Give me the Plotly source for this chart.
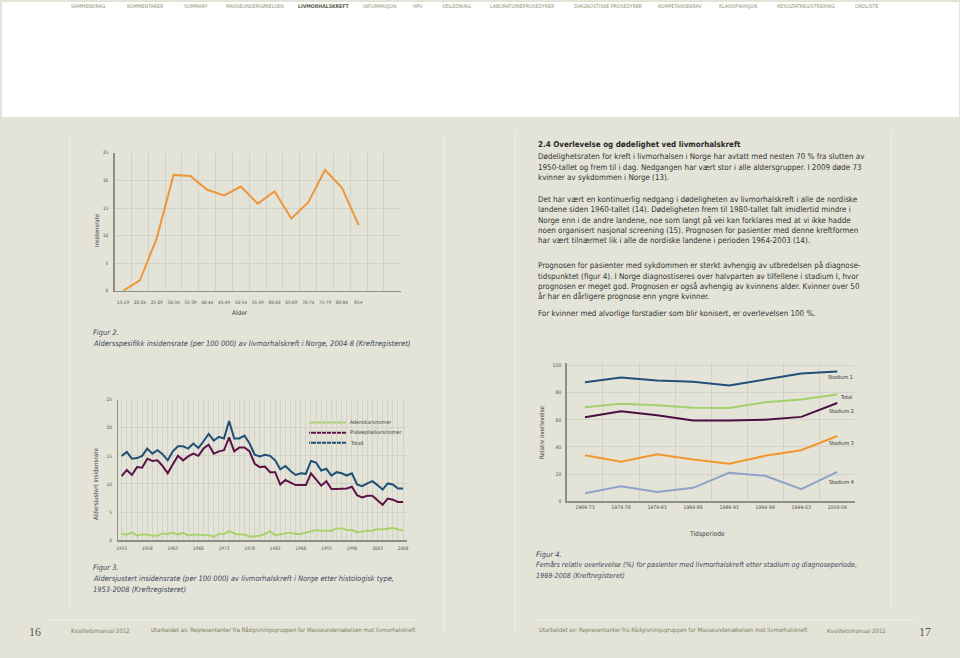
import plotly.graph_objects as go

# ---------------- data ----------------
age_groups = ["15-19", "20-24", "25-29", "30-34", "35-39", "40-44", "45-49", "50-54",
              "55-59", "60-64", "65-69", "70-74", "75-79", "80-84", "85+"]
incidence_rate = [0.0, 1.9, 9.5, 21.0, 20.8, 18.3, 17.3, 18.9, 15.8, 18.0, 13.1, 16.0, 21.9, 18.7, 11.9]

years = list(range(1953, 2009))
adenokarsinomer = [1.1, 1.0, 1.4, 0.8, 1.0, 1.0, 0.8, 0.8, 1.2, 1.1,
                   1.3, 1.0, 1.3, 0.8, 1.0, 1.0, 0.9, 0.9, 0.6, 1.1,
                   1.1, 1.6, 1.2, 1.0, 1.0, 0.6, 0.7, 0.8, 1.1, 1.6,
                   0.9, 1.1, 1.2, 1.3, 1.1, 1.1, 1.3, 1.5, 1.8, 1.7,
                   1.7, 1.7, 2.1, 2.1, 1.8, 1.8, 1.4, 1.6, 1.7, 1.7,
                   2.0, 1.9, 2.0, 2.2, 1.9, 1.7]
plateepitelkarsinomer = [11.4, 12.5, 11.6, 13.0, 12.9, 14.5, 14.1, 14.2, 13.2, 11.9,
                         13.5, 15.0, 14.2, 14.9, 15.4, 15.0, 16.3, 17.0, 15.4, 15.8,
                         16.0, 18.3, 15.8, 16.5, 16.5, 15.8, 13.6, 13.0, 13.1, 12.1,
                         12.1, 9.9, 10.7, 10.3, 9.8, 9.8, 9.8, 11.9, 10.9, 9.7,
                         10.5, 9.1, 9.1, 9.2, 9.2, 9.5, 8.0, 7.6, 7.9, 7.9,
                         7.1, 6.3, 7.4, 7.2, 6.8, 6.8]
totalt = [15.0, 15.7, 14.5, 14.6, 15.0, 16.3, 15.4, 16.0, 15.3, 14.2,
          15.8, 16.7, 16.7, 16.3, 17.2, 16.4, 17.6, 18.9, 17.7, 18.4,
          18.1, 21.2, 18.1, 18.1, 18.6, 17.2, 15.2, 14.9, 15.2, 15.0,
          14.2, 12.6, 13.2, 12.3, 11.6, 11.9, 11.8, 14.1, 13.8, 12.4,
          12.7, 11.5, 12.1, 11.9, 11.5, 11.9, 9.9, 9.6, 10.1, 10.5,
          9.8, 9.0, 10.1, 9.9, 9.2, 9.2]
year_ticks = [1953, 1958, 1963, 1968, 1973, 1978, 1983, 1988, 1993, 1998, 2003, 2008]

periods = ["1969-73", "1974-78", "1979-83", "1984-88", "1989-93", "1994-98", "1999-03", "2004-08"]
stadium1 = [87.6, 91.0, 88.8, 87.9, 85.2, 89.6, 93.9, 95.4]
total_surv = [69.2, 71.8, 70.6, 68.9, 68.7, 72.8, 74.8, 78.6]
stadium2 = [61.9, 66.3, 63.3, 59.5, 59.5, 60.0, 62.1, 72.3]
stadium3 = [34.0, 29.1, 34.7, 30.8, 27.7, 33.5, 37.6, 48.1]
stadium4 = [6.1, 11.2, 7.0, 10.0, 21.1, 18.9, 9.0, 21.8]

nav_labels = ["SAMMENDRAG", "KOMMENTARER", "SUMMARY", "MASSEUNDERSØKELSEN", "LIVMORHALSKREFT",
              "INFORMASJON", "HPV", "VEILEDNING", "LABORATORIEPROSEDYRER", "DIAGNOSTISKE PROSEDYRER",
              "KOMPETANSEKRAV", "KLASSIFIKASJON", "RESULTATREGISTRERING", "ORDLISTE"]

body_lines = [
    "Dødelighetsraten for kreft i livmorhalsen i Norge har avtatt med nesten 70 % fra slutten av",
    "1950-tallet og frem til i dag. Nedgangen har vært stor i alle aldersgrupper. I 2009 døde 73",
    "kvinner av sykdommen i Norge (13).",
    "Det har vært en kontinuerlig nedgang i dødeligheten av livmorhalskreft i alle de nordiske",
    "landene siden 1960-tallet (14). Dødeligheten frem til 1980-tallet falt imidlertid mindre i",
    "Norge enn i de andre landene, noe som langt på vei kan forklares med at vi ikke hadde",
    "noen organisert nasjonal screening (15). Prognosen for pasienter med denne kreftformen",
    "har vært tilnærmet lik i alle de nordiske landene i perioden 1964-2003 (14).",
    "Prognosen for pasienter med sykdommen er sterkt avhengig av utbredelsen på diagnose-",
    "tidspunktet (figur 4). I Norge diagnostiseres over halvparten av tilfellene i stadium I, hvor",
    "prognosen er meget god. Prognosen er også avhengig av kvinnens alder. Kvinner over 50",
    "år har en dårligere prognose enn yngre kvinner.",
    "For kvinner med alvorlige forstadier som blir konisert, er overlevelsen 100 %.",
]

# ---------------- styling helpers ----------------
W, H = 960, 658
NARROW = "Liberation Sans Narrow, DejaVu Sans Condensed, Arial Narrow, sans-serif"
SERIF = "Liberation Serif, DejaVu Serif, serif"
BG = "#e3e3d8"
GRID = "#d2d2c6"
AXIS = "#8e8e86"
TXT = "#333333"
CAP = "#3e4a5a"
FOOT = "#7d8160"
FS = 0.83  # width compensation for the condensed fallback font


def X(px):
    return px / W


def Y(py):
    return 1 - py / H


anns = []
shapes = []


def add_text(px, py, text, size, color=TXT, xanchor="left", family=NARROW, angle=0, scale=True,
             yanchor="middle"):
    anns.append(dict(x=X(px), y=Y(py), xref="paper", yref="paper", text=text, showarrow=False,
                     xanchor=xanchor, yanchor=yanchor, textangle=angle, borderpad=0,
                     font=dict(size=size * (FS if scale else 1), color=color, family=family)))


def hline(x0, x1, py, color, width=1):
    shapes.append(dict(type="line", xref="paper", yref="paper", x0=X(x0), x1=X(x1), y0=Y(py), y1=Y(py),
                       line=dict(color=color, width=width), layer="below"))


def vline(px, y0, y1, color, width=1):
    shapes.append(dict(type="line", xref="paper", yref="paper", x0=X(px), x1=X(px), y0=Y(y0), y1=Y(y1),
                       line=dict(color=color, width=width), layer="below"))


fig = go.Figure()

# ---------------- Figur 2 ----------------
age_idx = list(range(len(age_groups)))
fig.add_trace(go.Scatter(x=age_idx, y=incidence_rate, mode="lines", xaxis="x", yaxis="y",
                         line=dict(color="#ec973b", width=2), showlegend=False, hoverinfo="skip"))

# ---------------- Figur 3 ----------------
fig.add_trace(go.Scatter(x=years, y=adenokarsinomer, mode="lines", xaxis="x2", yaxis="y2",
                         line=dict(color="#a9d26c", width=2), showlegend=False, name="Adenokarsinomer"))
fig.add_trace(go.Scatter(x=years, y=plateepitelkarsinomer, mode="lines", xaxis="x2", yaxis="y2",
                         line=dict(color="#5c1447", width=2), showlegend=False, name="Plateepitelkarsinomer"))
fig.add_trace(go.Scatter(x=years, y=totalt, mode="lines", xaxis="x2", yaxis="y2",
                         line=dict(color="#1f4f74", width=2), showlegend=False, name="Totalt"))

# ---------------- Figur 4 ----------------
surv_series = [("Stadium 1", stadium1, "#1f4f7a"), ("Total", total_surv, "#a3d06e"),
               ("Stadium 2", stadium2, "#4b0f3f"), ("Stadium 3", stadium3, "#f2962f"),
               ("Stadium 4", stadium4, "#8fa3c9")]
for name, vals, col in surv_series:
    fig.add_trace(go.Scatter(x=periods, y=vals, mode="lines", xaxis="x3", yaxis="y3",
                             line=dict(color=col, width=2), showlegend=False, name=name))

tickfont = dict(size=5.6 * FS, color="#555555", family=NARROW)
tickfont4 = dict(size=6.2 * FS, color="#555555", family=NARROW)

fig.update_layout(
    width=W, height=H, autosize=False,
    margin=dict(l=0, r=0, t=0, b=0),
    paper_bgcolor=BG, plot_bgcolor="rgba(0,0,0,0)",
    showlegend=False,
    xaxis=dict(domain=[X(113), X(400)], anchor="y", range=[-0.5, 16.5],
               tickmode="array", tickvals=age_idx, ticktext=age_groups, tickangle=0,
               showgrid=False, zeroline=False, showline=True, linecolor=AXIS, linewidth=1.5,
               ticks="outside", ticklen=6, tickcolor="rgba(0,0,0,0)", tickfont=tickfont,
               minor=dict(tickmode="linear", tick0=0.5, dtick=1, showgrid=True, gridcolor=GRID, gridwidth=1),
               fixedrange=True),
    yaxis=dict(domain=[Y(291), Y(152)], anchor="x", range=[0, 25], dtick=5,
               showgrid=True, gridcolor=GRID, zeroline=False, showline=True, linecolor=AXIS, linewidth=1.5,
               ticks="outside", ticklen=4, tickcolor="rgba(0,0,0,0)", tickfont=tickfont, fixedrange=True),
    xaxis2=dict(domain=[X(116.7), X(406.7)], anchor="y2", range=[1952.35, 2008.85],
                tickmode="array", tickvals=year_ticks, tickangle=0,
                showgrid=True, gridcolor=GRID, zeroline=False, showline=True, linecolor=AXIS, linewidth=1.5,
                ticks="outside", ticklen=3, tickcolor="rgba(0,0,0,0)", tickfont=tickfont,
                minor=dict(tickmode="linear", tick0=1953, dtick=1, showgrid=True, gridcolor=GRID, gridwidth=1),
                fixedrange=True),
    yaxis2=dict(domain=[Y(542.3), Y(400.7)], anchor="x2", range=[0, 25], dtick=5,
                showgrid=True, gridcolor=GRID, zeroline=False, showline=True, linecolor=AXIS, linewidth=1.5,
                ticks="outside", ticklen=4, tickcolor="rgba(0,0,0,0)", tickfont=tickfont, fixedrange=True),
    xaxis3=dict(domain=[X(566.7), X(856)], anchor="y3", type="category", range=[-0.5, 7.5],
                tickson="boundaries", showgrid=True, gridcolor=GRID, zeroline=False, tickangle=0,
                showline=True, linecolor=AXIS, linewidth=1.5,
                ticks="", tickfont=tickfont4, fixedrange=True),
    yaxis3=dict(domain=[Y(503.3), Y(363.3)], anchor="x3", range=[0, 102], dtick=20,
                showgrid=True, gridcolor=GRID, zeroline=False, showline=True, linecolor=AXIS, linewidth=1.5,
                ticks="outside", ticklen=3, tickcolor="rgba(0,0,0,0)", tickfont=tickfont4, fixedrange=True),
)

# ---------------- page decoration ----------------
shapes.append(dict(type="rect", xref="paper", yref="paper", x0=0, x1=1, y0=Y(116), y1=1,
                   fillcolor="#ffffff", line=dict(width=0), layer="below"))
GUT = "#f1f1ea"
vline(68, 138, 612, GUT)
vline(443, 135, 636, GUT)
vline(515, 130, 636, GUT)
vline(892, 130, 612, GUT)
hline(47, 415, 623, GUT)
hline(537, 915, 623, GUT)

# nav bar
nav_x = [86.7, 144, 195, 254, 323, 379, 417, 455.5, 522, 608.5, 680, 739, 806.5, 867]
for lab, cx in zip(nav_labels, nav_x):
    if lab == "LIVMORHALSKREFT":
        add_text(cx, 0.5, "<b>" + lab + "</b>", 6.2, "#5a5a48", "center", yanchor="top")
    else:
        add_text(cx, 0.5, lab, 6.3, "#8f8f70", "center", yanchor="top")

# body text
add_text(537, 143.5, "<b>2.4 Overlevelse og dødelighet ved livmorhalskreft</b>", 9.6, "#2a2a2a")
body_y = [156, 166.3, 176.5, 199, 209.3, 219.7, 230, 240.5, 266, 276.3, 286.8, 297, 314.3]
for line, py in zip(body_lines, body_y):
    add_text(537, py, line, 9.6, TXT)

# Figur 2 texts
add_text(95, 230, "Insidensrate", 7.2, "#444444", "center", angle=-90)
add_text(238.5, 313.3, "Alder", 7.8, "#444444", "center")
add_text(90, 332.7, "<i>Figur 2.</i>", 9, CAP)
add_text(90, 344, "<i>Aldersspesifikk insidensrate (per 100 000) av livmorhalskreft i Norge, 2004-8 (Kreftregisteret)</i>", 9, CAP)

# Figur 3 texts
add_text(95, 486, "Aldersjustert insidensrate", 7.5, "#444444", "center", angle=-90)
legend_items = [("Adenokarsinomer", "#a9d26c", 423.7), ("Plateepitelkarsinomer", "#5c1447", 434),
                ("Totalt", "#1f4f74", 444)]
for lab, col, py in legend_items:
    hline(308, 345, py, col, 2)
    add_text(348, py, lab, 6.3, "#444444")
add_text(90, 569.5, "<i>Figur 3.</i>", 9, CAP)
add_text(90, 580.7, "<i>Aldersjustert insidensrate (per 100 000) av livmorhalskreft i Norge etter histologisk type,</i>", 9, CAP)
add_text(90, 592.3, "<i>1953-2008 (Kreftregisteret)</i>", 9, CAP)

# Figur 4 texts
add_text(541, 433, "Relativ overlevelse", 7.5, "#444444", "center", angle=-90)
add_text(707, 536, "Tidsperiode", 8, "#444444", "center")
stage_label_pos = [("Stadium 1", 840.7, 378.3), ("Total", 847, 398.3), ("Stadium 2", 841.7, 411.7),
                   ("Stadium 3", 841.7, 444.3), ("Stadium 4", 841.7, 484)]
for lab, px, py in stage_label_pos:
    add_text(px, py, lab, 6.5, "#333333", "center")
add_text(535, 556.5, "<i>Figur 4.</i>", 9, CAP)
add_text(535, 567.3, "<i>Femårs relativ overlevelse (%) for pasienter med livmorhalskreft etter stadium og diagnoseperiode,</i>", 8.6, CAP)
add_text(535, 578.3, "<i>1969-2008 (Kreftregisteret)</i>", 8.6, CAP)

# footer
add_text(33.5, 635, "16", 12, "#5a5a50", "center", family=SERIF, scale=False)
add_text(68, 633.3, "Kvalitetsmanual 2012", 7.2, FOOT)
add_text(148, 633.3, "Utarbeidet av: Representanter fra Rådgivningsgruppen for Masseundersøkelsen mot livmorhalskreft", 7.1, FOOT)
add_text(538, 633.3, "Utarbeidet av: Representanter fra Rådgivningsgruppen for Masseundersøkelsen mot livmorhalskreft", 7.2, FOOT)
add_text(827, 633.3, "Kvalitetsmanual 2012", 7.2, FOOT)
add_text(925.7, 635, "17", 12, "#5a5a50", "center", family=SERIF, scale=False)

fig.update_layout(annotations=anns, shapes=shapes)

fig.write_html("out.html", config={"displayModeBar": False, "staticPlot": True},
               post_script="document.body.style.margin='0';document.body.style.overflow='hidden';")
